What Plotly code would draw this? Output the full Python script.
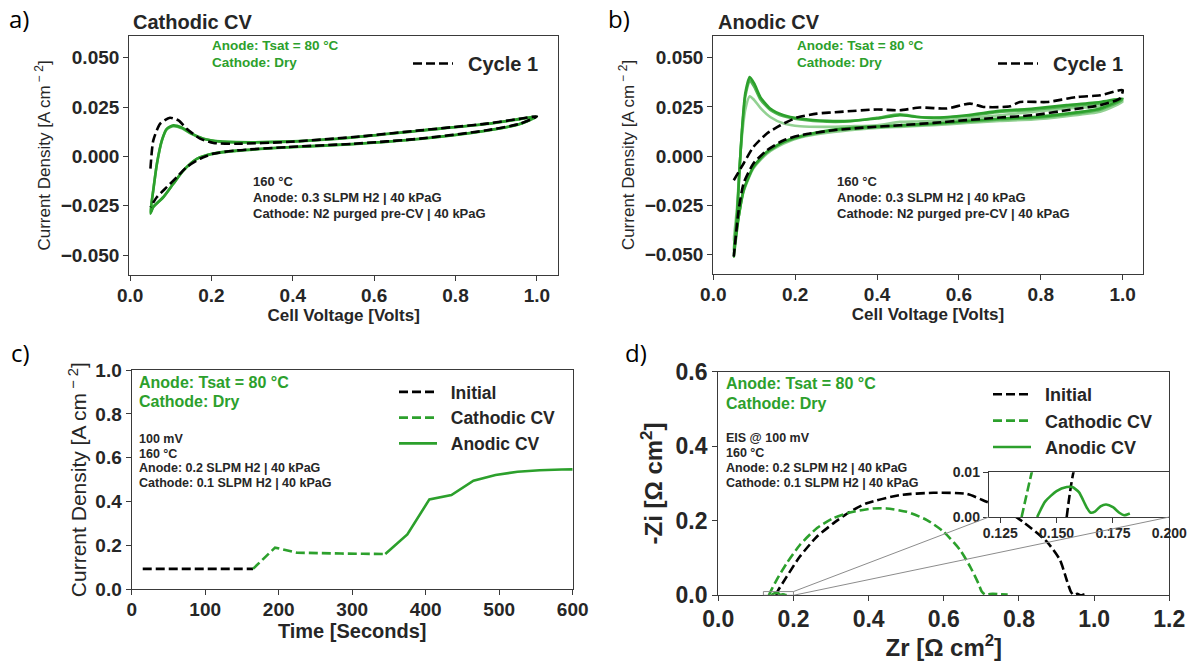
import plotly.graph_objects as go

W, H = 1191, 661
FONT = "Liberation Sans, Arial, Helvetica, sans-serif"
GREEN = "#2ca02c"
GREEN_MID = "#55b555"
GREEN_LIGHT = "#93d193"
INK = "#262626"
SPINE = "#3a3a3a"

# ---------------- (a) Cathodic CV ----------------
a_cyc1_v = [0.05, 0.057, 0.074, 0.098, 0.119, 0.139, 0.172, 0.205, 0.262, 0.385, 0.549, 0.713, 0.877, 0.959, 1.0,
            0.959, 0.877, 0.713, 0.549, 0.385, 0.262, 0.205, 0.172, 0.139, 0.115, 0.09, 0.066, 0.05]
a_cyc1_j = [-0.0062, 0.0081, 0.0166, 0.0196, 0.0182, 0.0140, 0.0090, 0.0068, 0.0064, 0.0073, 0.0098, 0.0132, 0.0166, 0.0191, 0.0203,
            0.0166, 0.0132, 0.0090, 0.0064, 0.0047, 0.0030, 0.0014, -0.0012, -0.0054, -0.0105, -0.0156, -0.0206, -0.0257]

a_green_v = [0.05, 0.057, 0.066, 0.078, 0.09, 0.106, 0.127, 0.152, 0.18, 0.221, 0.30, 0.40, 0.55, 0.713, 0.877, 0.959, 1.0,
             0.959, 0.877, 0.713, 0.549, 0.385, 0.262, 0.205, 0.164, 0.131, 0.106, 0.082, 0.057, 0.05]
a_cyc2_j = [-0.0285, -0.0168, -0.0035, 0.0079, 0.0137, 0.0153, 0.0143, 0.0113, 0.0089, 0.0075, 0.0071, 0.0075, 0.0096, 0.0130, 0.0164, 0.0189, 0.0201,
            0.0164, 0.0130, 0.0088, 0.0062, 0.0045, 0.0028, 0.0014, -0.0013, -0.0072, -0.0140, -0.0205, -0.0255, -0.0285]
a_cyc3_j = [-0.0290, -0.0172, -0.0037, 0.0081, 0.0140, 0.0157, 0.0146, 0.0115, 0.0090, 0.0076, 0.0072, 0.0076, 0.0097, 0.0131, 0.0165, 0.0190, 0.0203,
            0.0165, 0.0131, 0.0089, 0.0063, 0.0046, 0.0029, 0.0015, -0.0012, -0.0071, -0.0139, -0.0206, -0.0257, -0.0290]

# ---------------- (b) Anodic CV ----------------
b_cyc1_v = [0.05, 0.074, 0.098, 0.131, 0.164, 0.204, 0.253, 0.31, 0.40, 0.456, 0.505, 0.57, 0.627, 0.66, 0.725, 0.749, 0.815, 0.888, 0.945, 1.0,
            0.993, 0.945, 0.863, 0.782, 0.70, 0.619, 0.538, 0.456, 0.375, 0.294, 0.212, 0.172, 0.131, 0.098, 0.074, 0.062, 0.05]
b_cyc1_j = [-0.0122, -0.0037, 0.0047, 0.0115, 0.0157, 0.0196, 0.0216, 0.0225, 0.0237, 0.0233, 0.0247, 0.0242, 0.0267, 0.0250, 0.0253, 0.0275, 0.0275, 0.0300, 0.0309, 0.0335,
            0.0293, 0.0259, 0.0233, 0.0208, 0.0196, 0.0183, 0.0169, 0.0157, 0.0146, 0.0132, 0.0106, 0.0081, 0.0030, -0.0037, -0.0138, -0.0274, -0.0510]

b_green_v = [0.05, 0.058, 0.064, 0.07, 0.078, 0.089, 0.10, 0.115, 0.139, 0.172, 0.212, 0.278, 0.335, 0.40, 0.456, 0.497, 0.538, 0.619, 0.70, 0.782, 0.863, 0.945, 1.0,
             0.945, 0.863, 0.782, 0.70, 0.619, 0.538, 0.456, 0.375, 0.294, 0.212, 0.172, 0.131, 0.098, 0.074, 0.062, 0.05]
b_cyc2_j = [-0.0430, -0.0260, -0.0060, 0.0100, 0.0235, 0.0304, 0.0285, 0.0245, 0.0199, 0.0166, 0.0152, 0.0149, 0.0152, 0.0157, 0.0174, 0.0176, 0.0179, 0.0191, 0.0208, 0.0225, 0.0242, 0.0253, 0.0275,
            0.0225, 0.0203, 0.0186, 0.0179, 0.0169, 0.0157, 0.0149, 0.0140, 0.0123, 0.0095, 0.0064, 0.0013, -0.0062, -0.0180, -0.0308, -0.0430]
b_cyc3_j = [-0.0480, -0.0290, -0.0065, 0.0125, 0.0300, 0.0385, 0.0352, 0.0288, 0.0235, 0.0202, 0.0186, 0.0175, 0.0177, 0.0195, 0.0212, 0.0200, 0.0194, 0.0204, 0.0224, 0.0236, 0.0252, 0.0268, 0.0285,
            0.0236, 0.0211, 0.0194, 0.0186, 0.0175, 0.0162, 0.0153, 0.0145, 0.0131, 0.0098, 0.0070, 0.0019, -0.0057, -0.0175, -0.0305, -0.0480]
b_cyc4_j = [-0.0510, -0.0308, -0.0071, 0.0132, 0.0318, 0.0402, 0.0369, 0.0300, 0.0242, 0.0208, 0.0191, 0.0179, 0.0179, 0.0191, 0.0208, 0.0199, 0.0196, 0.0208, 0.0230, 0.0242, 0.0259, 0.0275, 0.0293,
            0.0242, 0.0216, 0.0199, 0.0191, 0.0179, 0.0166, 0.0157, 0.0149, 0.0135, 0.0101, 0.0073, 0.0022, -0.0054, -0.0172, -0.0308, -0.0510]

# ---------------- (c) current at 100 mV ----------------
c_init_t = [15, 45, 75, 105, 135, 165]
c_init_j = [0.093, 0.093, 0.093, 0.093, 0.093, 0.093]
c_cath_t = [165, 195, 225, 255, 285, 315, 345]
c_cath_j = [0.093, 0.190, 0.167, 0.164, 0.163, 0.162, 0.161]
c_anod_t = [345, 375, 405, 435, 465, 495, 525, 555, 585, 600]
c_anod_j = [0.161, 0.250, 0.410, 0.430, 0.495, 0.521, 0.536, 0.543, 0.546, 0.547]

# ---------------- (d) EIS Nyquist ----------------
d_init_zr = [0.1545, 0.1575, 0.182, 0.217, 0.262, 0.306, 0.35, 0.395, 0.483, 0.572, 0.661, 0.714, 0.76, 0.816, 0.874, 0.909, 0.927, 0.938, 0.945, 0.955, 0.965, 0.975, 0.982]
d_init_zi = [0.0, 0.010, 0.050, 0.104, 0.157, 0.193, 0.224, 0.247, 0.269, 0.275, 0.272, 0.251, 0.232, 0.193, 0.144, 0.095, 0.041, 0.010, 0.001, 0.004, 0.000, 0.003, 0.002]
d_cath_zr = [0.1345, 0.139, 0.155, 0.182, 0.217, 0.262, 0.306, 0.35, 0.412, 0.448, 0.501, 0.555, 0.599, 0.643, 0.670, 0.692, 0.701, 0.71, 0.73, 0.75, 0.77]
d_cath_zi = [0.0, 0.010, 0.041, 0.086, 0.135, 0.180, 0.207, 0.222, 0.233, 0.233, 0.224, 0.202, 0.171, 0.122, 0.077, 0.032, 0.010, 0.002, 0.004, 0.003, 0.002]
d_anod_zr = [0.1414, 0.145, 0.150, 0.1545, 0.157, 0.160, 0.163, 0.165, 0.167, 0.1695, 0.172, 0.175, 0.178, 0.180, 0.1825]
d_anod_zi = [0.0, 0.0035, 0.0058, 0.0067, 0.0067, 0.0055, 0.0025, 0.0010, 0.0012, 0.0024, 0.0028, 0.0022, 0.0009, 0.0004, 0.0008]

# zoom window of the inset and its placement (fraction of the main axes)
inset_xlim = [0.12, 0.20]
inset_ylim = [0.0, 0.01]
inset_bounds = [0.6, 0.35, 0.4, 0.2]

cond_lines = ["Anode: Tsat = 80 °C", "Cathode: Dry"]
cv_lines = ["160 °C", "Anode: 0.3 SLPM H2 | 40 kPaG", "Cathode: N2 purged pre-CV | 40 kPaG"]
c_lines = ["100 mV", "160 °C", "Anode: 0.2 SLPM H2 | 40 kPaG", "Cathode: 0.1 SLPM H2 | 40 kPaG"]
d_lines = ["EIS @ 100 mV", "160 °C", "Anode: 0.2 SLPM H2 | 40 kPaG", "Cathode: 0.1 SLPM H2 | 40 kPaG"]

# en space between a legend's line sample and its label
GAP = "\u2002"


def fx(px):
    return px / W


def fy(py):
    return 1 - py / H


# axes boxes in pixels: (left, right, top, bottom)
box_a = (129.3, 558.0, 36.0, 275.0)
box_b = (713.3, 1142.7, 36.0, 274.0)
box_c = (131.7, 572.7, 370.0, 589.3)
box_d = (718.3, 1169.3, 371.7, 595.3)


def dom(box):
    l, r, t, b = box
    return [fx(l), fx(r)], [fy(b), fy(t)]


fig = go.Figure()

DASH = "9px,4px"


def cv(x, y, color, xa, ya, dash=None, name=None, legend=None, width=2.6, spline=True):
    fig.add_trace(go.Scatter(
        x=x, y=y, mode="lines", xaxis=xa, yaxis=ya,
        line=dict(color=color, width=width, dash=dash, shape="spline" if spline else "linear", smoothing=0.6),
        name=(GAP + name) if name else None, showlegend=name is not None, legend=legend or "legend"))


# (a)
cv(a_green_v, a_cyc2_j, GREEN_MID, "x", "y")
cv(a_green_v, a_cyc3_j, GREEN, "x", "y")
cv(a_cyc1_v, a_cyc1_j, "black", "x", "y", dash=DASH, name="Cycle 1", legend="legend")
# (b)
cv(b_green_v, b_cyc2_j, GREEN_LIGHT, "x2", "y2")
cv(b_green_v, b_cyc3_j, GREEN_MID, "x2", "y2")
cv(b_green_v, b_cyc4_j, GREEN, "x2", "y2")
cv(b_cyc1_v, b_cyc1_j, "black", "x2", "y2", dash=DASH, name="Cycle 1", legend="legend2")
# (c)
cv(c_init_t, c_init_j, "black", "x3", "y3", dash=DASH, name="Initial", legend="legend3", spline=False)
cv(c_cath_t, c_cath_j, GREEN, "x3", "y3", dash=DASH, name="Cathodic CV", legend="legend3", spline=False)
cv(c_anod_t, c_anod_j, GREEN, "x3", "y3", name="Anodic CV", legend="legend3", spline=False)
# (d) main and inset
cv(d_init_zr, d_init_zi, "black", "x4", "y4", dash=DASH, name="Initial", legend="legend4")
cv(d_cath_zr, d_cath_zi, GREEN, "x4", "y4", dash=DASH, name="Cathodic CV", legend="legend4")
cv(d_anod_zr, d_anod_zi, GREEN, "x4", "y4", name="Anodic CV", legend="legend4")
cv(d_init_zr, d_init_zi, "black", "x5", "y5", dash=DASH)
cv(d_cath_zr, d_cath_zi, GREEN, "x5", "y5", dash=DASH)
cv(d_anod_zr, d_anod_zi, GREEN, "x5", "y5")


def axis(domain, rng, size, fmt=None, dtick=None, tickvals=None, title=None, tsize=16, tbold=True, standoff=6,
         anchor=None, lblstand=0):
    d = dict(domain=domain, range=rng, showline=True, linecolor=SPINE, linewidth=1.3, mirror=True,
             ticks="outside", ticklen=5, tickwidth=1.3, tickcolor=SPINE, showgrid=False, zeroline=False,
             automargin=False, ticklabelstandoff=lblstand,
             tickfont=dict(family=FONT, size=size, color=INK, weight="bold"), anchor=anchor)
    if fmt:
        d["tickformat"] = fmt
    if dtick:
        d["dtick"] = dtick
        d["tick0"] = 0
    if tickvals is not None:
        d["tickvals"] = tickvals
    if title:
        d["title"] = dict(text=title, standoff=standoff,
                          font=dict(family=FONT, size=tsize, color=INK, weight="bold" if tbold else "normal"))
    return d


xa, ya = dom(box_a)
xb, yb = dom(box_b)
xc, yc = dom(box_c)
xd, yd = dom(box_d)
ins_x = [xd[0] + inset_bounds[0] * (xd[1] - xd[0]), xd[0] + (inset_bounds[0] + inset_bounds[2]) * (xd[1] - xd[0])]
ins_y = [yd[0] + inset_bounds[1] * (yd[1] - yd[0]), yd[0] + (inset_bounds[1] + inset_bounds[3]) * (yd[1] - yd[0])]

cd_title = "Current Density [A cm<sup> − 2</sup>]"
fig.update_layout(
    xaxis=axis(xa, [-0.002, 1.052], 19, ".1f", 0.2, title="Cell Voltage [Volts]", tsize=17, standoff=2, anchor="y", lblstand=-2),
    yaxis=axis(ya, [-0.0601, 0.061], 19, ".3f", 0.025, title=cd_title, tsize=17, tbold=False, standoff=5, anchor="x"),
    xaxis2=axis(xb, [0.0, 1.049], 19, ".1f", 0.2, title="Cell Voltage [Volts]", tsize=17, standoff=2, anchor="y2", lblstand=-2),
    yaxis2=axis(yb, [-0.0598, 0.061], 19, ".3f", 0.025, title=cd_title, tsize=17, tbold=False, standoff=5, anchor="x2"),
    xaxis3=axis(xc, [0, 600], 19, "d", 100, title="Time [Seconds]", tsize=20, standoff=0, anchor="y3", lblstand=-2),
    yaxis3=axis(yc, [0, 1.0], 19, ".1f", 0.2, title=cd_title, tsize=21, tbold=False, standoff=2, anchor="x3"),
    xaxis4=axis(xd, [0, 1.2], 23, ".1f", 0.2, title="Zr [Ω cm<sup>2</sup>]", tsize=24, standoff=1, anchor="y4", lblstand=-2),
    yaxis4=axis(yd, [0, 0.6], 23, ".1f", 0.2, title="-Zi [Ω cm<sup>2</sup>]", tsize=24, standoff=6, anchor="x4"),
    xaxis5=axis(ins_x, inset_xlim, 14, ".3f", tickvals=[0.125, 0.15, 0.175, 0.2], anchor="y5", lblstand=-2),
    yaxis5=axis(ins_y, inset_ylim, 14, ".2f", tickvals=[0.0, 0.01], anchor="x5"),
    width=W, height=H, margin=dict(l=0, r=0, t=0, b=0, autoexpand=False),
    paper_bgcolor="white", plot_bgcolor="white",
    font=dict(family=FONT, color=INK),
)

leg_common = dict(xanchor="left", yanchor="top", bgcolor="rgba(0,0,0,0)", borderwidth=0, tracegroupgap=0)
fig.update_layout(
    legend=dict(x=fx(408), y=fy(44), itemwidth=40,
                font=dict(family=FONT, size=20, color=INK, weight="bold"), **leg_common),
    legend2=dict(x=fx(993), y=fy(44), itemwidth=40,
                 font=dict(family=FONT, size=20, color=INK, weight="bold"), **leg_common),
    legend3=dict(x=fx(394), y=fy(374), itemwidth=38,
                 font=dict(family=FONT, size=17.5, color=INK, weight="bold"), **leg_common),
    legend4=dict(x=fx(988), y=fy(376), itemwidth=38,
                 font=dict(family=FONT, size=18, color=INK, weight="bold"), **leg_common),
)

# white backdrop for the inset so the main curves do not show through
fig.add_shape(type="rect", xref="x5 domain", yref="y5 domain", x0=0, x1=1, y0=0, y1=1,
              fillcolor="white", line=dict(width=0), layer="below")
# zoom indicator and connectors
fig.add_shape(type="rect", xref="x4", yref="y4", x0=inset_xlim[0], x1=inset_xlim[1], y0=inset_ylim[0], y1=inset_ylim[1],
              line=dict(color="#8c8c8c", width=1))
corner_x0 = inset_bounds[0] * 1.2
corner_x1 = (inset_bounds[0] + inset_bounds[2]) * 1.2
corner_y = inset_bounds[1] * 0.6
fig.add_shape(type="line", xref="x4", yref="y4", x0=inset_xlim[1], y0=inset_ylim[1], x1=corner_x0, y1=corner_y,
              line=dict(color="#8c8c8c", width=1))
fig.add_shape(type="line", xref="x4", yref="y4", x0=inset_xlim[1], y0=inset_ylim[0], x1=corner_x1, y1=corner_y,
              line=dict(color="#8c8c8c", width=1))


def text_block(lines, x_px, y_px, step, size, color, bold=True, family=FONT):
    for i, t in enumerate(lines):
        fig.add_annotation(x=fx(x_px), y=fy(y_px + i * step), xref="paper", yref="paper", text=t,
                           showarrow=False, xanchor="left", yanchor="middle",
                           font=dict(family=family, size=size, color=color, weight="bold" if bold else "normal"))


# panel letters and titles
text_block(["a)"], 7, 18, 0, 24, "black", bold=False, family="Open Sans")
text_block(["b)"], 606, 18, 0, 24, "black", bold=False, family="Open Sans")
text_block(["c)"], 9, 352, 0, 24, "black", bold=False, family="Open Sans")
text_block(["d)"], 623, 352, 0, 24, "black", bold=False, family="Open Sans")
text_block(["Cathodic CV"], 131, 22, 0, 20, INK)
text_block(["Anodic CV"], 716, 22, 0, 20, INK)

# condition notes
text_block(cond_lines, 210, 45, 17.7, 13.5, GREEN)
text_block(cond_lines, 795, 45, 17.7, 13.5, GREEN)
text_block(cv_lines, 251, 181, 16.3, 13, INK)
text_block(cv_lines, 835, 181, 16.3, 13, INK)
text_block(cond_lines, 137, 382, 20, 16, GREEN)
text_block(c_lines, 137, 439, 14.6, 12.5, INK)
text_block(cond_lines, 724, 383.5, 20, 16, GREEN)
text_block(d_lines, 724, 438, 15, 12.5, INK)

fig.write_html("out.html")
